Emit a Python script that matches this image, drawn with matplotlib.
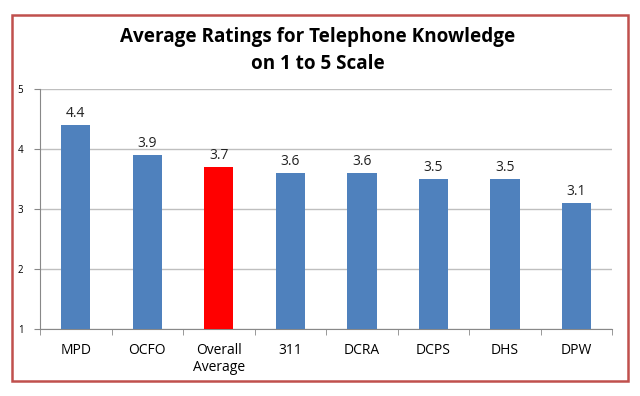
import matplotlib
matplotlib.use("Agg")
import matplotlib.pyplot as plt
from matplotlib.patches import Rectangle
import numpy as np

categories = ["MPD", "OCFO", "Overall\nAverage", "311", "DCRA", "DCPS", "DHS", "DPW"]
ratings = [4.4, 3.9, 3.7, 3.6, 3.6, 3.5, 3.5, 3.1]
highlight = "Overall\nAverage"

plt.rcParams['font.family'] = ['Open Sans', 'DejaVu Sans']

blue = "#4F81BD"
red = "#FF0000"
grid_col = "#BFBFBF"

fig = plt.figure(figsize=(6.4, 3.96), dpi=100)
ax = fig.add_axes([0.0625, 0.169, 0.894, 0.606])

x = np.arange(len(categories))
colors = [red if c == highlight else blue for c in categories]
bars = ax.bar(x, [r - 1 for r in ratings], bottom=1, width=0.41, color=colors, zorder=3)

for xi, r in zip(x, ratings):
    ax.text(xi, r + 0.06, "%.1f" % r, ha="center", va="bottom", fontsize=10, color="#222222")

ax.set_ylim(1, 5)
ax.set_xlim(-0.5, len(categories) - 0.5)
ax.set_yticks([1, 2, 3, 4, 5])
ax.tick_params(axis="y", labelsize=7, length=4, color="#888888", pad=8)
ax.yaxis.grid(True, color=grid_col, linewidth=1, zorder=0)

ax.set_xticks(x)
ax.set_xticklabels(categories, fontsize=10, linespacing=1.2)
ax.tick_params(axis="x", length=0, pad=10)
ax.set_xticks(np.arange(-0.5, len(categories), 1), minor=True)
ax.tick_params(axis="x", which="minor", length=4, color="#888888")

for s in ["top", "right"]:
    ax.spines[s].set_visible(False)
ax.spines["left"].set_color("#888888")
ax.spines["bottom"].set_color("#888888")

fig.text(0.497, 0.906, "Average Ratings for Telephone Knowledge", ha="center", va="center",
         fontsize=13.6, fontweight="bold")
fig.text(0.497, 0.838, "on 1 to 5 Scale", ha="center", va="center",
         fontsize=13.6, fontweight="bold")

fig.patches.append(Rectangle((12 / 640, 1 - 381 / 396), 616 / 640, 366 / 396,
                             transform=fig.transFigure, fill=False,
                             edgecolor="#C0504D", linewidth=1.8))

fig.savefig("out.png", dpi=100)
